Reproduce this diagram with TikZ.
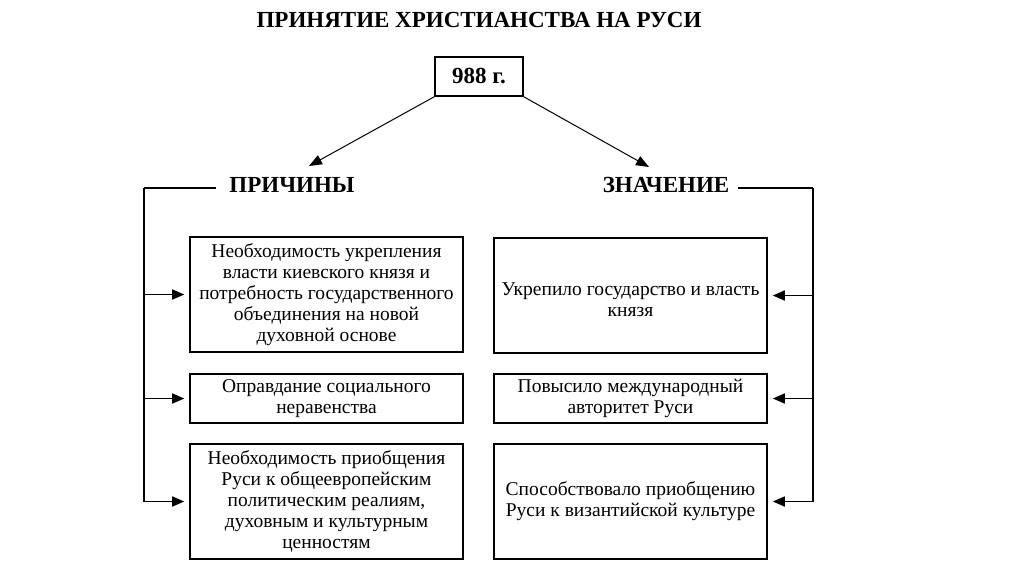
\documentclass[tikz,border=0pt]{standalone}
\usepackage{fontspec}
\setmainfont{Liberation Serif}
\usetikzlibrary{arrows.meta}
\begin{document}
\begin{tikzpicture}[x=1pt,y=1pt,
  box/.style={draw, line width=1.6pt, minimum width=273pt, align=center, inner sep=0pt, font=\fontsize{19.5}{21}\selectfont},
  txt/.style={align=center, inner sep=0pt, font=\fontsize{19.5}{21}\selectfont},
  head/.style={font=\bfseries\fontsize{23}{26}\selectfont, inner sep=0pt, anchor=base},
  conn/.style={line width=1.6pt},
  arr/.style={line width=1.6pt, shorten >=5pt, -{Triangle[length=12pt,width=10pt]}},
  thinarr/.style={line width=1pt, -{Triangle[length=13pt,width=10pt]}}]
\useasboundingbox (0,0) rectangle (1024,-574);
\fill[white] (0,0) rectangle (1024,-574);
\node[head] (title) at (479,-27) {ПРИНЯТИЕ ХРИСТИАНСТВА НА РУСИ};
\node[draw, line width=1.6pt, minimum width=88pt, minimum height=39pt, inner sep=0pt, font=\bfseries\fontsize{23}{26}\selectfont] (year) at (479,-76.5) {988 г.};
\node[head] (prich) at (292,-192) {ПРИЧИНЫ};
\node[head] (znach) at (666,-192) {ЗНАЧЕНИЕ};
\coordinate (ptip) at (309,-166);
\coordinate (ztip) at (649,-167);
\draw[thinarr] (year.south west) -- (ptip);
\draw[thinarr] (year.south east) -- (ztip);
% left boxes
\node[box, minimum height=115pt] (c1) at (326.5,-294.5) {Необходимость укрепления\\власти киевского князя и\\потребность государственного\\объединения на новой\\духовной основе};
\node[box, minimum height=49pt] (c2) at (326.5,-398.5) {Оправдание социального\\неравенства};
\node[box, minimum height=115pt] (c3) at (326.5,-501.5) {Необходимость приобщения\\Руси к общеевропейским\\политическим реалиям,\\духовным и культурным\\ценностям};
% right boxes
\node[box, minimum height=115pt] (z1) at (630.5,-295.5) {};
\node[txt] (z1t) at (630.5,-299.5) {Укрепило государство и власть\\князя};
\node[box, minimum height=49pt] (z2) at (630.5,-398.5) {Повысило международный\\авторитет Руси};
\node[box, minimum height=115pt] (z3) at (630.5,-501.5) {Способствовало приобщению\\Руси к византийской культуре};
% left connector
\coordinate (lt) at (216,-188);
\coordinate (lc) at (144,-188);
\draw[conn] (lt) -- (lc);
\draw[arr] (lc) |- (c3);
\draw[arr] (lc |- c1) -- (c1);
\draw[arr] (lc |- c2) -- (c2);
% right connector
\coordinate (rt) at (738,-188);
\coordinate (rc) at (813,-188);
\draw[conn] (rt) -- (rc);
\draw[arr] (rc) |- (z3);
\draw[arr] (rc |- z1) -- (z1);
\draw[arr] (rc |- z2) -- (z2);
\end{tikzpicture}
\end{document}
